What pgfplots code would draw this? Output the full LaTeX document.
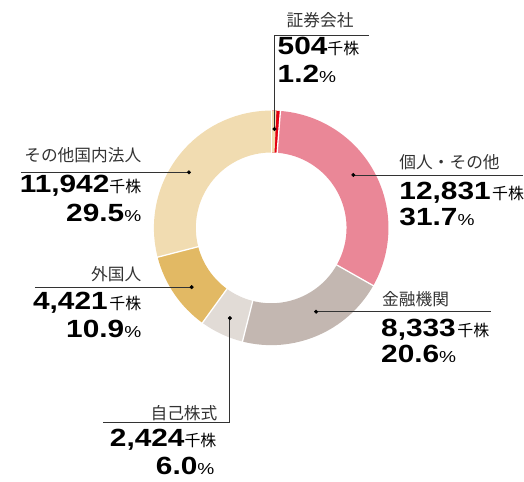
\documentclass[border=0pt]{standalone}
\usepackage{pgfplots}
\pgfplotsset{compat=1.18}
\usepackage{fontspec}
\setmainfont{Liberation Sans}
\newfontfamily\numfont[FakeStretch=1.2]{Liberation Sans}
\newfontfamily\jp{Noto Sans CJK JP}
\definecolor{cA}{HTML}{E50012}
\definecolor{cB}{HTML}{EA8797}
\definecolor{cC}{HTML}{C3B7B1}
\definecolor{cD}{HTML}{E1DBD6}
\definecolor{cE}{HTML}{E2B964}
\definecolor{cF}{HTML}{F1DCB1}
\definecolor{ln}{HTML}{333333}
\newcommand\nm[1]{{\numfont\bfseries\fontsize{25}{25}\selectfont #1}}
\newcommand\un{{\jp\fontsize{16}{16}\selectfont 千株}}
\newcommand\pc{{\numfont\fontsize{16}{16}\selectfont\%}}
\newcommand\lab[1]{{\jp\fontsize{16.8}{17}\selectfont #1}}
\begin{document}
\begin{tikzpicture}
\def\cx{271.7}\def\cy{253.7}\def\Ro{117.5}\def\Ri{75.5}
% total in millions of shares (40,455 thousand shares)
\def\total{40.455}
\gdef\segs{}
\gdef\seps{}
\xdef\acc{90}
\foreach \v/\col in {504/cA,12831/cB,8333/cC,2424/cD,4421/cE,11942/cF}{
  \pgfmathsetmacro\angA{\acc}
  \pgfmathsetmacro\angB{\acc-360*((\v*0.001)/\total)}
  \pgfmathsetmacro\xo{\cx+\Ro*cos(\angA)}
  \pgfmathsetmacro\yo{\cy+\Ro*sin(\angA)}
  \pgfmathsetmacro\xi{\cx+\Ri*cos(\angB)}
  \pgfmathsetmacro\yi{\cy+\Ri*sin(\angB)}
  \pgfmathsetmacro\xa{\cx+(\Ri-2)*cos(\angA)}
  \pgfmathsetmacro\ya{\cy+(\Ri-2)*sin(\angA)}
  \pgfmathsetmacro\xb{\cx+(\Ro+2)*cos(\angA)}
  \pgfmathsetmacro\yb{\cy+(\Ro+2)*sin(\angA)}
  \xdef\segs{\unexpanded\expandafter{\segs}\noexpand\fill[\col](axis cs:\xo,\yo) arc[start angle=\angA,end angle=\angB,radius=\Ro bp] -- (axis cs:\xi,\yi) arc[start angle=\angB,end angle=\angA,radius=\Ri bp] -- cycle;}
  \xdef\seps{\unexpanded\expandafter{\seps}\noexpand\draw[white,line width=1.3pt](axis cs:\xa,\ya) -- (axis cs:\xb,\yb);}
  \xdef\acc{\angB}
}
\begin{axis}[hide axis, scale only axis, width=524bp, height=482bp,
  xmin=0, xmax=524, ymin=0, ymax=482, clip=false]
\path (axis cs:0,0) rectangle (axis cs:524,482);
\segs
\seps
% leader lines
\draw[ln, line width=0.8pt] (axis cs:275,352.7) -- (axis cs:275,447) -- (axis cs:370,447);
\draw[ln, line width=0.8pt] (axis cs:354,306.7) -- (axis cs:524,306.7);
\draw[ln, line width=0.8pt] (axis cs:316.7,169.7) -- (axis cs:491.7,169.7);
\draw[ln, line width=0.8pt] (axis cs:230.3,163.3) -- (axis cs:230.3,58.7) -- (axis cs:103,58.7);
\draw[ln, line width=0.8pt] (axis cs:21,309.3) -- (axis cs:189.3,309.3);
\draw[ln, line width=0.8pt] (axis cs:35,194.3) -- (axis cs:192,194.3);
\addplot[only marks, mark=*, mark size=1.8pt, black] coordinates {
 (275,352.7) (354,306.7) (316.7,169.7) (230.3,163.3) (189.3,309.3) (192,194.3)};
% 証券会社
\node[anchor=west, inner sep=0, text=ln] at (axis cs:287,461.5) {\lab{証券会社}};
\node[anchor=base west, inner sep=0] at (axis cs:278,427) {\nm{504}\un};
\node[anchor=base west, inner sep=0] at (axis cs:278,399) {\nm{1.2}\pc};
% 個人・その他
\node[anchor=west, inner sep=0, text=ln] at (axis cs:400,319.5) {\lab{個人・その他}};
\node[anchor=base west, inner sep=0] at (axis cs:400,282) {\nm{12,831}\hspace{1.5pt}\un};
\node[anchor=base west, inner sep=0] at (axis cs:400,256) {\nm{31.7}\pc};
% 金融機関
\node[anchor=west, inner sep=0, text=ln] at (axis cs:382.7,182) {\lab{金融機関}};
\node[anchor=base west, inner sep=0] at (axis cs:381.7,145.3) {\nm{8,333}\,\un};
\node[anchor=base west, inner sep=0] at (axis cs:381.7,119) {\nm{20.6}\pc};
% 自己株式
\node[anchor=east, inner sep=0, text=ln] at (axis cs:218,68.3) {\lab{自己株式}};
\node[anchor=base east, inner sep=0] at (axis cs:217,35) {\nm{2,424}\un};
\node[anchor=base east, inner sep=0] at (axis cs:215,7) {\nm{6.0}\pc};
% その他国内法人
\node[anchor=east, inner sep=0, text=ln] at (axis cs:141.7,326.5) {\lab{その他国内法人}};
\node[anchor=base east, inner sep=0] at (axis cs:141.7,288.7) {\nm{11,942}\un};
\node[anchor=base east, inner sep=0] at (axis cs:141.7,260.3) {\nm{29.5}\pc};
% 外国人
\node[anchor=east, inner sep=0, text=ln] at (axis cs:141.7,207) {\lab{外国人}};
\node[anchor=base east, inner sep=0] at (axis cs:141.7,172) {\nm{4,421}\,\un};
\node[anchor=base east, inner sep=0] at (axis cs:141.7,143.7) {\nm{10.9}\pc};
\end{axis}
\end{tikzpicture}
\end{document}
